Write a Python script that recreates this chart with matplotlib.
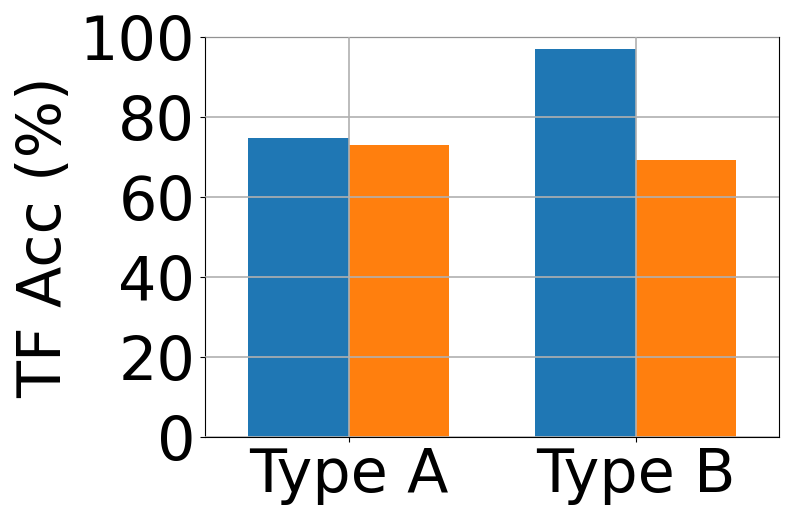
import matplotlib.pyplot as plt
import numpy as np

# %%
categorias = ['Type A', 'Type B']
serie_1 = [74.6, 96.9]
serie_2 = [72.9, 69.3]
yticks = [0, 20, 40, 60, 80, 100]

# %%
fig = plt.figure(figsize=(7.93, 5.24), dpi=100)
ax = fig.add_axes([205/793, 1 - 436.7/524, (779 - 205)/793, 400/524])

x = np.arange(len(categorias))
ancho = 0.35
ax.bar(x - ancho/2, serie_1, ancho, color='#1f77b4')
ax.bar(x + ancho/2, serie_2, ancho, color='#ff7f0e')

ax.set_xlim(-0.5, 1.5)
ax.set_ylim(0, 100)
ax.set_yticks(yticks)
ax.set_xticks(x)
ax.set_xticklabels(categorias)
ax.tick_params(labelsize=43.5)
ax.set_ylabel('TF Acc (%)', fontsize=43.5)
ax.set_axisbelow(False)
ax.grid(True, color='#b0b0b0', linewidth=1.2)

fig.savefig('out.png', dpi=100)
